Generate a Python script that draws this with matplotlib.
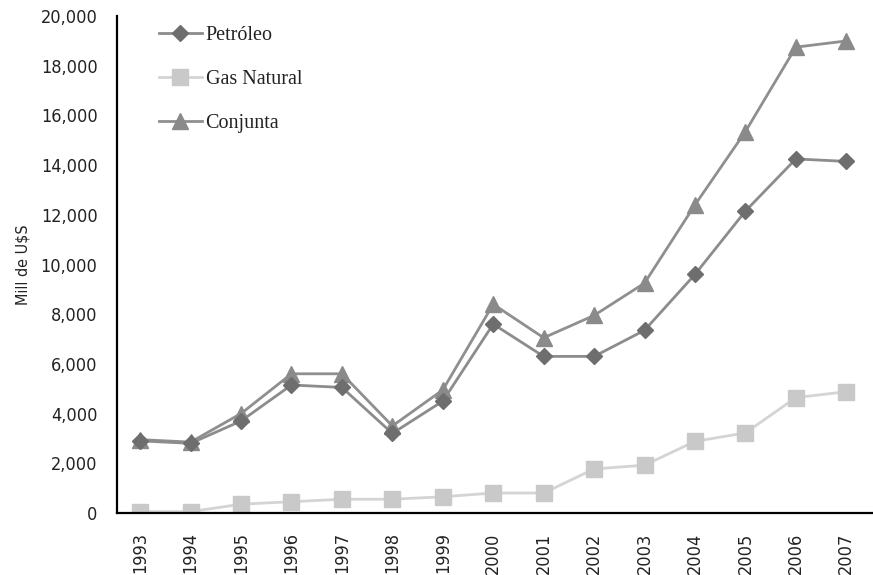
import matplotlib.pyplot as plt
from matplotlib.ticker import FuncFormatter

years = list(range(1993, 2008))
petroleo = [2900, 2800, 3700, 5150, 5050, 3200, 4500, 7600, 6300, 6300, 7350, 9600, 12150, 14250, 14150]
gas_natural = [50, 50, 350, 450, 550, 550, 650, 800, 800, 1770, 1920, 2880, 3220, 4640, 4880]
conjunta = [2950, 2850, 4000, 5600, 5600, 3500, 4950, 8400, 7050, 7950, 9250, 12400, 15350, 18750, 19000]

fig = plt.figure(figsize=(8.73, 5.75), dpi=100)
ax = fig.add_axes([0.134, 0.108, 0.866, 0.864])

ax.plot(years, petroleo, color='#8c8c8c', lw=2, marker='D', ms=8,
        mfc='#6e6e6e', mec='#6e6e6e', label='Petróleo', zorder=3)
ax.plot(years, gas_natural, color='#d4d4d4', lw=2, marker='s', ms=12,
        mfc='#c9c9c9', mec='#c9c9c9', label='Gas Natural', zorder=2)
ax.plot(years, conjunta, color='#8f8f8f', lw=2, marker='^', ms=11,
        mfc='#8a8a8a', mec='#8a8a8a', label='Conjunta', zorder=2)

ax.set_xlim(1992.54, 2007.53)
ax.set_ylim(0, 20000)
ax.set_yticks(range(0, 20001, 2000))
ax.yaxis.set_major_formatter(FuncFormatter(lambda v, p: f'{int(v):,}'))
ax.set_xticks(years)
ax.set_xticklabels([str(y) for y in years], rotation=90)

for s in ['top', 'right']:
    ax.spines[s].set_visible(False)
ax.spines['left'].set_linewidth(1.6)
ax.spines['bottom'].set_linewidth(1.6)
ax.tick_params(axis='y', length=0, pad=14)
ax.tick_params(axis='x', length=0, pad=14)
for lab in ax.get_xticklabels() + ax.get_yticklabels():
    lab.set_fontfamily('DejaVu Sans')
    lab.set_fontstretch('condensed')
    lab.set_fontsize(13)
    lab.set_color('#222222')

ax.set_ylabel('Mill de U$S', fontfamily='DejaVu Sans', fontstretch='condensed',
              fontsize=11.5, color='#222222')
ax.yaxis.set_label_coords(-0.115, 0.5)

leg = ax.legend(loc='upper left', bbox_to_anchor=(0.032, 1.017), frameon=False,
                prop={'family': 'Liberation Serif', 'size': 14.5},
                labelspacing=1.25, handlelength=2.1, handletextpad=0.2)
for t in leg.get_texts():
    t.set_color('#222222')

fig.savefig('out.png', dpi=100)
